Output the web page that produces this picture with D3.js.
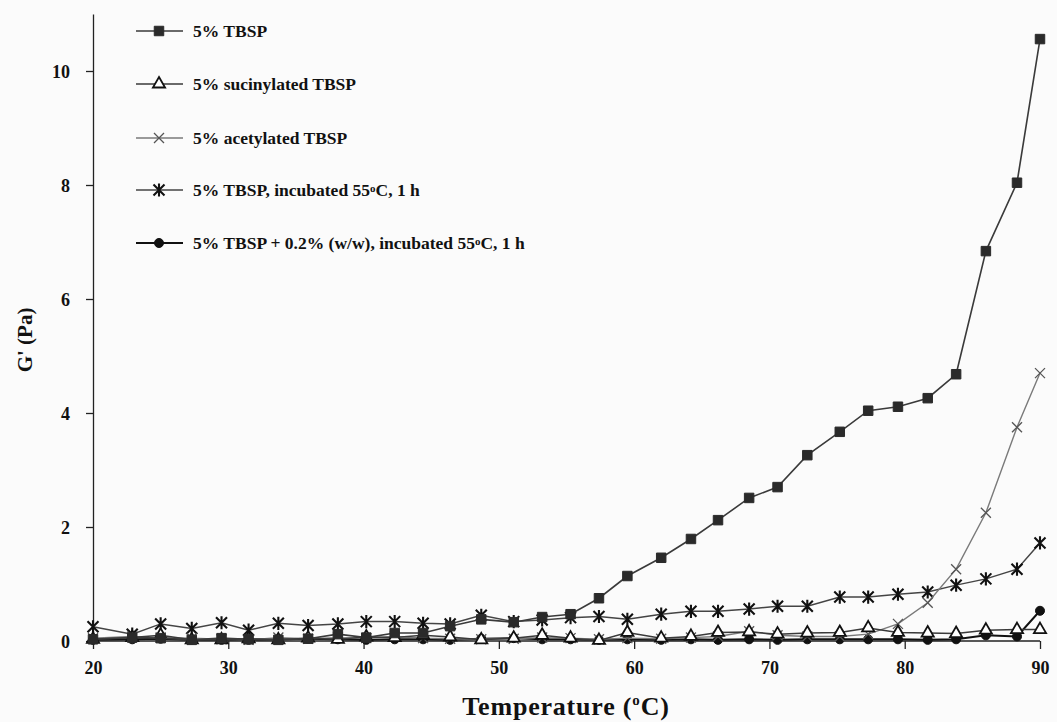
<!DOCTYPE html>
<html lang="en">
<head>
<meta charset="utf-8">
<title>G' vs Temperature</title>
<script src="https://cdn.jsdelivr.net/npm/d3@7/dist/d3.min.js"></script>
<style>
  body { margin: 0; background: #fbfbfb; }
  text { font-family: "Liberation Serif", "Times New Roman", serif; font-weight: bold; fill: #111; }
  .axis path, .axis line { stroke: #222; stroke-width: 1.3px; }
</style>
</head>
<body>
<script>
// temperatures (°C) of the measurement points
var temps = [20, 22.9, 25.0, 27.3, 29.5, 31.5, 33.7, 35.9, 38.1, 40.2, 42.3, 44.4, 46.4, 48.7, 51.1, 53.2,
             55.3, 57.4, 59.5, 62.0, 64.2, 66.2, 68.5, 70.6, 72.8, 75.2, 77.3, 79.5, 81.7, 83.8, 86.0, 88.3, 90.0];

// G' (Pa) for each series
var tbsp       = [0.03, 0.06, 0.05, 0.02, 0.05, 0.03, 0.02, 0.04, 0.12, 0.06, 0.14, 0.14, 0.26, 0.38, 0.33, 0.42,
                  0.47, 0.75, 1.14, 1.46, 1.79, 2.12, 2.51, 2.70, 3.26, 3.67, 4.04, 4.11, 4.26, 4.68, 6.84, 8.04, 10.56];
var succinyl   = [0.03, 0.06, 0.10, 0.02, 0.02, 0.04, 0.02, 0.05, 0.03, 0.07, 0.06, 0.10, 0.07, 0.02, 0.05, 0.10,
                  0.05, 0.01, 0.15, 0.05, 0.08, 0.15, 0.16, 0.12, 0.14, 0.15, 0.23, 0.15, 0.14, 0.13, 0.19, 0.20, 0.20];
var acetyl     = [0.05, 0.08, 0.06, 0.05, 0.03, 0.02, 0.06, 0.04, 0.06, 0.05, 0.08, 0.05, 0.04, 0.03, 0.04, 0.06,
                  0.05, 0.03, 0.05, 0.04, 0.06, 0.08, 0.17, 0.10, 0.08, 0.08, 0.12, 0.30, 0.67, 1.26, 2.25, 3.75, 4.70];
var incubated  = [0.25, 0.12, 0.30, 0.22, 0.32, 0.19, 0.31, 0.27, 0.30, 0.34, 0.34, 0.31, 0.30, 0.45, 0.34, 0.37,
                  0.41, 0.43, 0.38, 0.47, 0.52, 0.52, 0.56, 0.61, 0.61, 0.77, 0.77, 0.82, 0.86, 0.98, 1.09, 1.26, 1.72];
var withAdd    = [0.02, 0.03, 0.04, 0.02, 0.02, 0.02, 0.03, 0.04, 0.03, 0.02, 0.03, 0.03, 0.02, 0.04, 0.05, 0.03,
                  0.03, 0.02, 0.03, 0.02, 0.03, 0.02, 0.03, 0.02, 0.03, 0.03, 0.03, 0.03, 0.02, 0.03, 0.10, 0.08, 0.53];

var xTicks = [20, 30, 40, 50, 60, 70, 80, 90];
var yTicks = [0, 2, 4, 6, 8, 10];

var w = 1057, h = 722;
var x = d3.scaleLinear().domain([20, 90]).range([93, 1040]);
var y = d3.scaleLinear().domain([0, 11]).range([641, 14]);

var svg = d3.select("body").append("svg")
  .attr("width", w)
  .attr("height", h);

svg.append("rect").attr("width", w).attr("height", h).attr("fill", "#fbfbfb");

// marker shapes
function starPath(s) {
  var r = s / 2;
  return "M" + (-r) + "," + (-r) + "L" + r + "," + r +
         "M" + (-r) + "," + r + "L" + r + "," + (-r) +
         "M0," + (-r * 1.2) + "L0," + (r * 1.2);
}
function xPath(s) {
  var r = s / 2;
  return "M" + (-r) + "," + (-r) + "L" + r + "," + r +
         "M" + (-r) + "," + r + "L" + r + "," + (-r);
}

var series = [
  { name: "5% TBSP", values: tbsp, line: "#3a3a3a", lw: 1.6,
    marker: d3.symbol().type(d3.symbolSquare).size(90)(), fill: "#2a2a2a", stroke: "#2a2a2a", sw: 1 },
  { name: "5% sucinylated TBSP", values: succinyl, line: "#3a3a3a", lw: 1.5,
    marker: d3.symbol().type(d3.symbolTriangle).size(64)(), fill: "#fff", stroke: "#111", sw: 1.8 },
  { name: "5% acetylated TBSP", values: acetyl, line: "#7a7a7a", lw: 1.4,
    marker: xPath(10), fill: "none", stroke: "#555", sw: 1.3 },
  { name: "5% TBSP, incubated 55oC, 1 h", values: incubated, line: "#444", lw: 1.5,
    marker: starPath(11), fill: "none", stroke: "#111", sw: 2.1 },
  { name: "5% TBSP + 0.2% (w/w), incubated 55oC, 1 h", values: withAdd, line: "#111", lw: 2,
    marker: d3.symbol().type(d3.symbolCircle).size(64)(), fill: "#111", stroke: "#111", sw: 1 }
];

// axes
var xAxis = d3.axisBottom(x).tickValues(xTicks).tickSizeInner(8).tickSizeOuter(0).tickPadding(12);
var yAxis = d3.axisLeft(y).tickValues(yTicks).tickSizeInner(7).tickSizeOuter(0).tickPadding(16);

var gx = svg.append("g").attr("class", "axis").attr("transform", "translate(0," + y(0) + ")").call(xAxis);
gx.selectAll("text").style("font-size", "18px").attr("fill", "#111");
gx.select(".domain").attr("d", "M" + x(20) + ",0H" + x(90));

var gy = svg.append("g").attr("class", "axis").attr("transform", "translate(" + x(20) + ",0)").call(yAxis);
gy.selectAll("text").style("font-size", "18px").attr("fill", "#111").attr("dy", "0.35em");

// lines and markers (draw the later series first so TBSP sits on top)
var line = d3.line().x(function(d) { return x(d[0]); }).y(function(d) { return y(d[1]); });

series.slice().reverse().forEach(function(s) {
  var pts = temps.map(function(t, i) { return [t, s.values[i]]; });
  svg.append("path")
    .datum(pts)
    .attr("d", line)
    .attr("fill", "none")
    .attr("stroke", s.line)
    .attr("stroke-width", s.lw);
  svg.append("g").selectAll("path")
    .data(pts)
    .enter()
    .append("path")
    .attr("d", s.marker)
    .attr("transform", function(d) { return "translate(" + x(d[0]) + "," + y(d[1]) + ")"; })
    .attr("fill", s.fill)
    .attr("stroke", s.stroke)
    .attr("stroke-width", s.sw);
});

// legend
var legendY = [31, 84, 138, 190, 243];
var legend = svg.append("g");
series.forEach(function(s, i) {
  var ly = legendY[i];
  legend.append("line")
    .attr("x1", 136).attr("x2", 183).attr("y1", ly).attr("y2", ly)
    .attr("stroke", s.line).attr("stroke-width", s.lw);
  legend.append("path")
    .attr("d", s.marker)
    .attr("transform", "translate(159," + ly + ")")
    .attr("fill", s.fill).attr("stroke", s.stroke).attr("stroke-width", s.sw);
  var t = legend.append("text")
    .attr("x", 193).attr("y", ly + 6)
    .style("font-size", "17.5px");
  var parts = s.name.split("55oC");
  if (parts.length > 1) {
    t.append("tspan").text(parts[0] + "55");
    t.append("tspan").text("o").style("font-size", "11px").attr("dy", "-4");
    t.append("tspan").text("C" + parts[1]).attr("dy", "4");
  } else {
    t.text(s.name);
  }
});

// axis titles
var xt = svg.append("text")
  .attr("x", 566).attr("y", 715)
  .attr("text-anchor", "middle")
  .style("font-size", "26px")
  .style("letter-spacing", "0.8px");
xt.append("tspan").text("Temperature (");
xt.append("tspan").text("o").style("font-size", "15px").attr("dy", "-10");
xt.append("tspan").text("C)").attr("dy", "10");

svg.append("text")
  .attr("transform", "translate(32,340) rotate(-90)")
  .attr("text-anchor", "middle")
  .style("font-size", "21px")
  .text("G' (Pa)");
</script>
</body>
</html>
